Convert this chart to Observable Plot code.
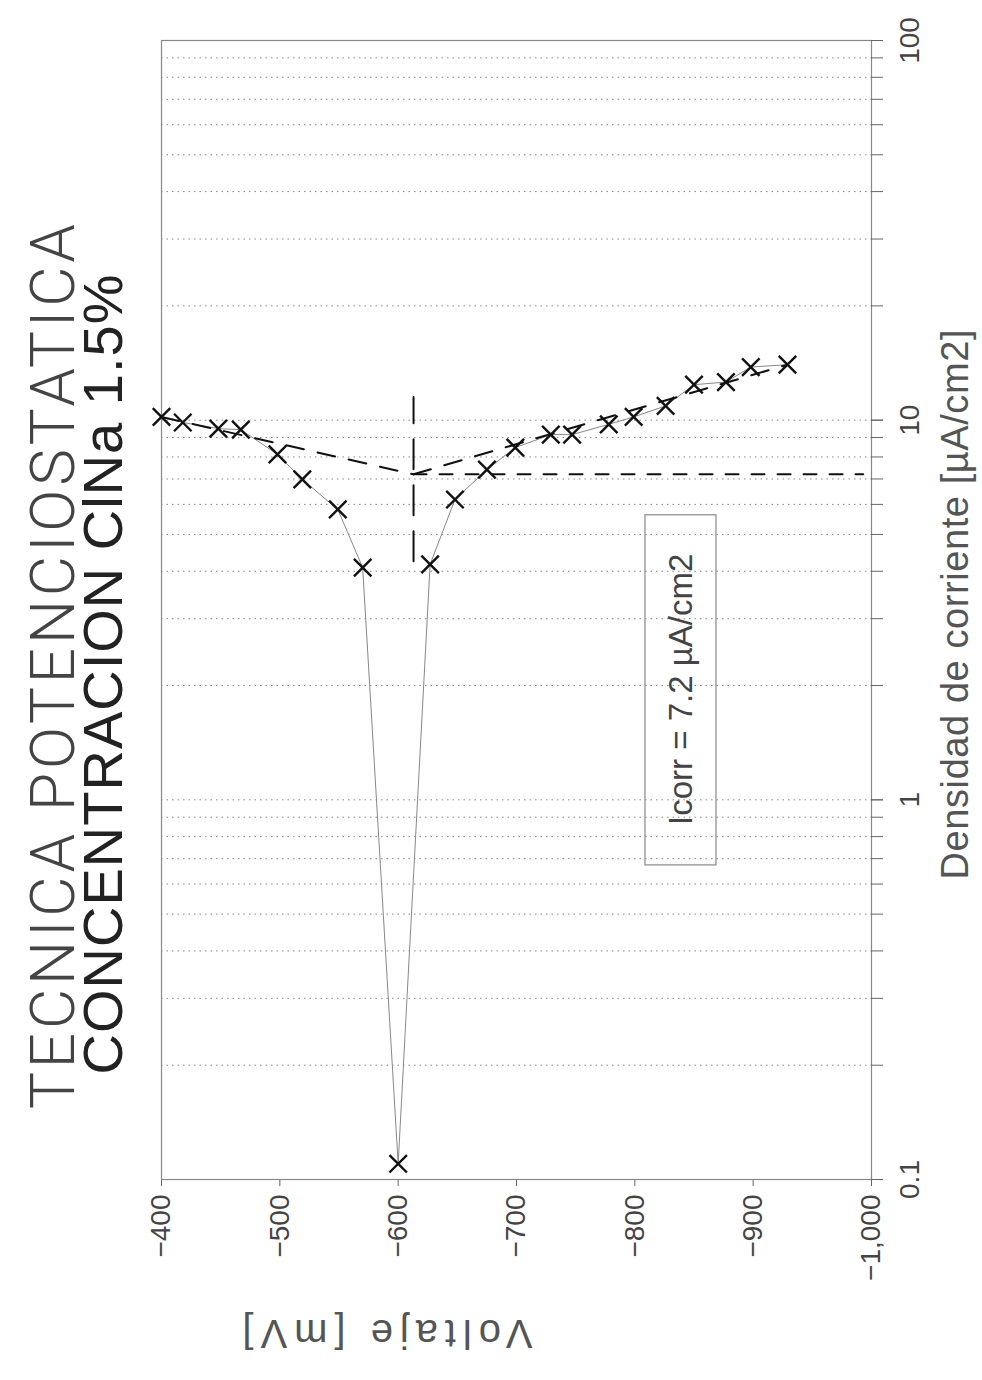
<!DOCTYPE html>
<html>
<head>
<meta charset="utf-8">
<script src="https://cdn.jsdelivr.net/npm/d3@7"></script>
<script src="https://cdn.jsdelivr.net/npm/@observablehq/plot@0.6"></script>
<style>
  html, body { margin: 0; padding: 0; background: #fff; overflow: hidden; width: 982px; height: 1380px; }
  #wrap { position: absolute; left: 0; top: 0; width: 1380px; height: 982px;
          transform-origin: 0 0; transform: translate(0px, 1380px) rotate(-90deg); }
</style>
</head>
<body>
<div id="wrap"></div>
<script>
// Measured data (voltage in mV, current density in µA/cm2)
const voltage = [-400, -418, -448, -467, -498, -519, -549, -570, -600, -627, -648, -675, -699, -729, -747, -778, -799, -826, -850, -877, -898, -929];
const density = [10.2, 9.86, 9.5, 9.44, 8.13, 6.98, 5.82, 4.09, 0.11, 4.17, 6.18, 7.41, 8.47, 9.16, 9.16, 9.75, 10.2, 10.9, 12.4, 12.6, 13.8, 14.0];

// Tafel extrapolation lines
const cathodicV = [-400, -613];
const cathodicI = [10.2, 7.2];
const anodicV = [-613, -929];
const anodicI = [7.2, 14.0];
const ecorrV = [-613, -613];
const ecorrI = [4.25, 11.5];
const icorrV = [-613, -993];
const icorrI = [7.2, 7.2];

// Annotation box
const boxI = [0.676, 5.65];
const boxV = [-809, -869];
const boxLabel = "Icorr = 7.2 µA/cm2";

// Axis ticks
const voltageTicks = [-400, -500, -600, -700, -800, -900, -1000];
const densityTicks = [0.1, 1, 10, 100];
const densityLabels = ["0.1", "1", "10", "100"];
const densityGrid = [0.2,0.3,0.4,0.5,0.6,0.7,0.8,0.9,1,2,3,4,5,6,7,8,9,10,20,30,40,50,60,70,80,90];
const densityMinor = [0.1,0.2,0.3,0.4,0.5,0.6,0.7,0.8,0.9,1,2,3,4,5,6,7,8,9,10,20,30,40,50,60,70,80,90,100];

const title1 = "TECNICA POTENCIOSTATICA";
const title2 = "CONCENTRACION ClNa 1.5%";
const xLabel = "Densidad de corriente [µA/cm2]";
const yLabel = "Voltaje [mV]";

const pts = voltage.map((v, k) => ({v, i: density[k]}));
const toPts = (V, I) => V.map((v, k) => ({v, i: I[k]}));

const chart = Plot.plot({
  width: 1380,
  height: 982,
  marginLeft: 200,
  marginRight: 41,
  marginTop: 161,
  marginBottom: 111,
  x: {type: "log", domain: [0.1, 100], axis: null},
  y: {domain: [-1000, -400], axis: null},
  style: {fontFamily: "'Liberation Sans', Arial, sans-serif", color: "#333", background: "white"},
  marks: [
    Plot.ruleX(densityGrid, {stroke: "#888", strokeWidth: 1, strokeDasharray: "1.5,4"}),
    Plot.frame({stroke: "#888", strokeWidth: 1.2}),
    Plot.axisY({ticks: voltageTicks, tickSize: 6, tickPadding: 9, fontSize: 28, label: null,
                tickFormat: d => d3.format(",")(d), stroke: "#666", fill: "#444"}),
    Plot.axisX({ticks: densityMinor, tickSize: 12, tickFormat: () => "", label: null, stroke: "#666"}),
    Plot.axisX({ticks: densityTicks, tickSize: 12, tickPadding: 16, fontSize: 28, label: null,
                tickFormat: d => densityLabels[densityTicks.indexOf(d)], stroke: "#666", fill: "#444"}),
    Plot.line(pts, {x: "i", y: "v", stroke: "#888", strokeWidth: 1}),
    Plot.line(toPts(cathodicV, cathodicI), {x: "i", y: "v", stroke: "#111", strokeWidth: 2, strokeDasharray: "18,14"}),
    Plot.line(toPts(anodicV, anodicI), {x: "i", y: "v", stroke: "#111", strokeWidth: 2, strokeDasharray: "18,14"}),
    Plot.line(toPts(ecorrV, ecorrI), {x: "i", y: "v", stroke: "#111", strokeWidth: 2, strokeDasharray: "30,16"}),
    Plot.line(toPts(icorrV, icorrI), {x: "i", y: "v", stroke: "#111", strokeWidth: 2, strokeDasharray: "13,13"}),
    Plot.dot(pts, {x: "i", y: "v", symbol: "times", r: 8, stroke: "#111", strokeWidth: 2.4}),
    Plot.rect([{x1: boxI[0], x2: boxI[1], y1: boxV[0], y2: boxV[1]}], {x1: "x1", x2: "x2", y1: "y1", y2: "y2", fill: "none", stroke: "#888", strokeWidth: 1.2}),
    Plot.text([boxLabel], {x: Math.sqrt(boxI[0] * boxI[1]), y: (boxV[0] + boxV[1]) / 2, text: d => d, fontSize: 33, fill: "#444"}),
    Plot.text([title1], {frameAnchor: "top-left", dx: 513, dy: -107, text: d => d, fontSize: 62, textAnchor: "middle", lineAnchor: "middle", fill: "#444", fontFamily: "Roboto, 'Liberation Sans', sans-serif", fontWeight: 300}),
    Plot.text([title2], {frameAnchor: "top-left", dx: 505, dy: -57, text: d => d, fontSize: 56, textAnchor: "middle", lineAnchor: "middle", fill: "#222"}),
    Plot.text([xLabel], {frameAnchor: "bottom-left", dx: 575, dy: 84, text: d => d, fontSize: 38, textAnchor: "middle", lineAnchor: "middle", fill: "#555"}),
    Plot.text([yLabel], {frameAnchor: "top-left", dx: -153, dy: 226, rotate: -90, text: d => d, fontSize: 40, textAnchor: "middle", lineAnchor: "middle", fill: "#555"})
  ]
});
document.getElementById("wrap").appendChild(chart);

// stretch letter spacing so that the long texts span the same length as in the reference
const spans = [[title1, 885], [title2, 800], [xLabel, 550], [yLabel, 290]];
d3.select(chart).selectAll("text").each(function() {
  const t = this.textContent;
  const s = spans.find(d => d[0] === t);
  if (!s) return;
  const len = this.getComputedTextLength();
  const n = t.length;
  const ls = (s[1] - len) / (n - 1);
  if (ls > 0) {
    this.setAttribute("letter-spacing", ls.toFixed(2));
    // compensate the trailing space that letter-spacing adds
    const prev = +(this.getAttribute("dx") || 0);
    this.setAttribute("dx", prev + ls / 2);
  }
});
</script>
</body>
</html>
